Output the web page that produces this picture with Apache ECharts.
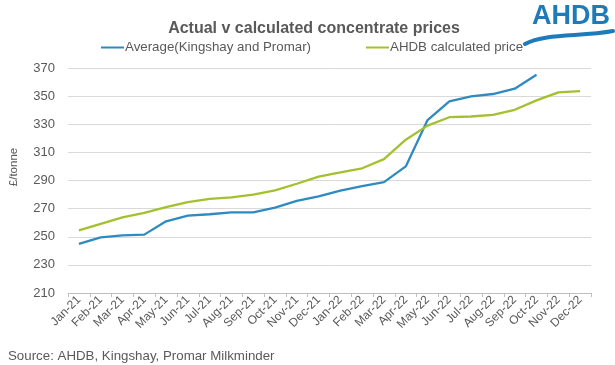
<!DOCTYPE html>
<html>
<head>
<meta charset="utf-8">
<script src="https://cdn.jsdelivr.net/npm/echarts@6/dist/echarts.min.js"></script>
<style>html,body{margin:0;padding:0;background:#fff;}#c{width:615px;height:365px;}</style>
</head>
<body>
<div id="c"></div>
<script>
var categories = ['Jan-21','Feb-21','Mar-21','Apr-21','May-21','Jun-21','Jul-21','Aug-21','Sep-21','Oct-21','Nov-21','Dec-21',
  'Jan-22','Feb-22','Mar-22','Apr-22','May-22','Jun-22','Jul-22','Aug-22','Sep-22','Oct-22','Nov-22','Dec-22'];
var averageKingshayPromar = [245, 249.6, 251, 251.5, 261, 265, 266, 267.4, 267.4, 270.7, 275.5, 278.7,
  282.8, 286, 288.8, 300, 333, 346.2, 349.8, 351.5, 355.3, 365.2, null, null];
var ahdbCalculated = [254.6, 259.2, 263.8, 266.9, 271, 274.6, 276.9, 278, 280, 283, 287.7, 292.8,
  295.7, 298.7, 305.2, 319, 329, 335, 335.5, 336.7, 340.3, 347, 352.7, 353.6];
var yTicks = {min: 210, max: 370, interval: 20};

var chart = echarts.init(document.getElementById('c'), null, {renderer: 'canvas'});
var grey = '#595959';
chart.setOption({
  animation: false,
  backgroundColor: '#fff',
  title: {
    text: 'Actual v calculated concentrate prices',
    left: 309, top: 16, textAlign: 'center',
    textStyle: {fontFamily: 'Liberation Sans', fontSize: 16, fontWeight: 'bold', color: grey}
  },
  legend: {
    top: 36, left: 96,
    itemWidth: 23, itemHeight: 2, itemGap: 55,
    icon: 'rect',
    textStyle: {fontFamily: 'Liberation Sans', fontSize: 13.3, color: grey, padding: [0,0,0,-4]},
    data: ['Average(Kingshay and Promar)', 'AHDB calculated price']
  },
  grid: {left: 68, right: 24, top: 68, bottom: 72},
  xAxis: {
    type: 'category',
    data: categories,
    boundaryGap: true,
    axisLine: {lineStyle: {color: '#bfbfbf', width: 1}},
    axisTick: {show: true, length: 4, lineStyle: {color: '#bfbfbf'}},
    axisLabel: {rotate: 45, interval: 0, fontFamily: 'Liberation Sans', fontSize: 12, color: grey, margin: 5}
  },
  yAxis: {
    type: 'value',
    min: yTicks.min, max: yTicks.max, interval: yTicks.interval,
    axisLine: {show: false},
    axisTick: {show: false},
    axisLabel: {fontFamily: 'Liberation Sans', fontSize: 13, color: grey, margin: 13},
    splitLine: {lineStyle: {color: '#d9d9d9', width: 1}}
  },
  series: [
    {name: 'Average(Kingshay and Promar)', type: 'line', data: averageKingshayPromar,
     symbol: 'none', lineStyle: {color: '#2f8ac0', width: 2.3}, itemStyle: {color: '#2f8ac0'}},
    {name: 'AHDB calculated price', type: 'line', data: ahdbCalculated,
     symbol: 'none', lineStyle: {color: '#a3c12e', width: 2.3}, itemStyle: {color: '#a3c12e'}}
  ],
  graphic: [
    {type: 'text', x: 14, y: 167, rotation: Math.PI / 2,
     style: {text: '£/tonne', font: '11.5px "Liberation Sans"', fill: grey, align: 'center', verticalAlign: 'middle'}},
    {type: 'text', x: 8, y: 356,
     style: {text: 'Source: AHDB, Kingshay, Promar Milkminder', font: '13.3px "Liberation Sans"', fill: grey, verticalAlign: 'middle'}},
    {type: 'text', x: 532, y: 3,
     style: {text: 'AHDB', font: 'bold 27px "Liberation Sans"', fill: '#1e7ab8'}},
    {type: 'bezierCurve', x: 0, y: 0,
     shape: {x1: 525, y1: 44, x2: 613, y2: 31, cpx1: 545, cpy1: 33, cpx2: 580, cpy2: 37},
     style: {stroke: '#1e7ab8', lineWidth: 4, fill: null, lineCap: 'round'}}
  ]
});
</script>
</body>
</html>
